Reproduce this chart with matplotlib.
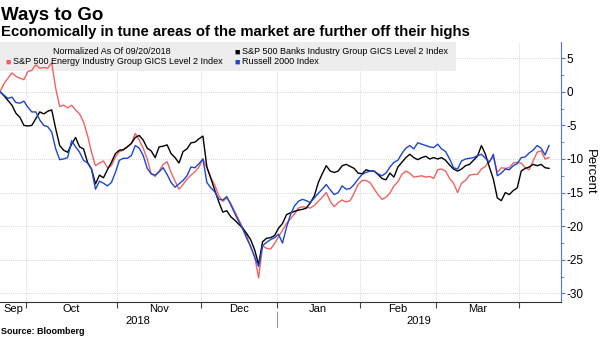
import numpy as np
import pandas as pd
import matplotlib.pyplot as plt
from matplotlib.patches import Rectangle
from matplotlib.transforms import blended_transform_factory

plt.rcParams['font.family'] = ['Liberation Sans', 'DejaVu Sans']
plt.rcParams['axes.unicode_minus'] = False

# trading days, Sep 20 2018 .. Apr 10 2019 (NYSE holidays removed)
holidays = ['2018-11-22', '2018-12-05', '2018-12-25',
            '2019-01-01', '2019-01-21', '2019-02-18']
dates = pd.bdate_range('2018-09-20', '2019-04-10', freq='C', holidays=holidays)

# % change since 09/20/2018
banks = [
    0, -0.6, -1.3, -2.0, -3.2, -3.8, -5.0, -5.1, -5.0, -4.0,
    -3.0, -3.3, -2.9, -2.7, -5.5, -8.0, -8.7, -9.0, -7.8, -6.8,
    -8.2, -8.5, -10.5, -11.5, -13.7, -12.4, -12.8, -11.6, -10.5, -9.2,
    -8.7, -8.6, -8.2, -7.7, -6.8, -6.5, -7.2, -8.4, -8.8, -9.8,
    -8.2, -8.1, -7.9, -9.2, -9.8, -10.6, -8.9, -8.5, -7.6, -7.5,
    -7.0, -6.6, -11.2, -12.9, -14.7, -16.4, -17.9, -17.7, -18.6, -19.1,
    -19.7, -20.3, -21.1, -22.0, -23.5, -25.7, -22.3, -21.8, -21.7, -21.4,
    -20.3, -19.6, -18.3, -18.0, -17.8, -17.6, -17.5, -17.3, -16.5, -15.5,
    -13.5, -12.2, -11.0, -11.8, -12.0, -11.8, -11.0, -10.8, -11.1, -11.4,
    -12.1, -12.2, -11.6, -11.8, -11.8, -12.3, -12.9, -13.1, -12.1, -12.7,
    -11.2, -10.5, -9.8, -9.3, -9.8, -10.1, -9.8, -9.6, -10.0, -9.8,
    -10.0, -9.8, -10.2, -10.9, -11.5, -11.8, -11.5, -11.0, -10.8, -10.2,
    -9.6, -8.0, -9.3, -11.2, -13.0, -15.8, -16.2, -15.0, -15.3, -14.7,
    -14.3, -11.8, -11.4, -11.2, -10.8, -11.0, -10.8, -11.3, -11.4,
]
energy = [
    0, 1.2, 2.0, 2.8, 2.3, 2.0, 1.8, 3.0, 3.2, 4.0,
    3.5, 3.6, 3.5, 4.3, 0.5, -2.2, -2.0, -2.4, -2.0, -2.7,
    -3.3, -4.5, -6.5, -9.0, -11.0, -10.6, -10.3, -11.3, -11.0, -9.7,
    -8.9, -8.7, -8.2, -7.7, -6.2, -7.2, -8.4, -10.0, -12.2, -12.6,
    -11.8, -10.8, -10.4, -12.0, -13.3, -14.5, -13.8, -13.0, -12.4, -11.9,
    -11.2, -10.0, -11.3, -12.8, -13.9, -15.5, -16.3, -15.8, -16.6, -17.8,
    -19.0, -20.2, -21.4, -23.1, -24.5, -27.7, -22.9, -23.3, -23.4, -22.6,
    -21.6, -20.6, -19.6, -18.9, -18.2, -17.3, -17.1, -17.2, -17.3, -16.9,
    -16.3, -15.7, -15.0, -16.3, -17.1, -16.5, -16.1, -16.4, -16.2, -15.1,
    -13.8, -13.2, -13.2, -13.5, -14.4, -15.3, -16.0, -15.7, -15.1, -14.0,
    -13.4, -12.3, -11.8, -12.1, -12.7, -12.6, -12.5, -12.7, -12.6, -12.9,
    -11.6, -11.5, -11.8, -12.9, -13.6, -15.0, -13.6, -13.2, -12.4, -12.3,
    -12.3, -11.5, -11.1, -10.3, -9.7, -12.0, -11.3, -11.4, -11.3, -10.6,
    -10.5, -10.6, -11.3, -11.6, -10.3, -9.0, -8.8, -10.0, -9.8,
]
russell = [
    0, -0.5, -1.0, -0.8, -1.6, -1.7, -1.4, -2.3, -3.0, -3.0,
    -4.2, -5.0, -5.2, -6.0, -8.5, -10.1, -10.0, -9.8, -7.3, -8.2,
    -9.0, -10.2, -10.6, -11.5, -14.5, -13.3, -13.6, -14.0, -13.5, -12.0,
    -10.2, -9.9, -9.9, -9.5, -8.0, -8.4, -9.5, -11.4, -12.2, -12.4,
    -11.9, -11.3, -12.3, -13.5, -14.2, -13.7, -13.2, -12.5, -11.2, -11.3,
    -10.7, -10.0, -13.5, -14.3, -14.9, -16.0, -16.1, -15.6, -16.8, -18.1,
    -19.3, -20.4, -21.8, -23.0, -24.6, -26.0, -22.9, -22.4, -22.0, -21.7,
    -21.2, -22.5, -20.2, -18.3, -17.0, -16.3, -16.0, -16.2, -16.5, -15.8,
    -15.1, -14.5, -13.8, -14.6, -15.3, -15.0, -14.0, -14.5, -14.4, -13.8,
    -13.0, -12.3, -12.0, -11.8, -11.8, -12.2, -12.5, -12.1, -11.2, -10.5,
    -10.2, -9.2, -8.4, -8.0, -8.5, -7.6, -7.8, -8.0, -8.2, -8.3,
    -7.8, -8.5, -8.9, -10.0, -11.3, -11.5, -10.3, -10.0, -9.9, -9.8,
    -9.5, -9.3, -9.9, -10.5, -9.3, -12.5, -12.1, -11.5, -11.6, -11.0,
    -10.7, -9.8, -9.7, -9.1, -8.7, -8.0, -8.4, -9.4, -8.0,
]

series_names = ['S&P 500 Energy Industry Group GICS Level 2 Index',
                'S&P 500 Banks Industry Group GICS Level 2 Index',
                'Russell 2000 Index']
colors = ['#f06262', '#000000', '#1c46d2']

W, H = 600, 338
fig = plt.figure(figsize=(W / 100, H / 100), dpi=100)

def fx(px):
    return px / W

def fy(py):
    return 1 - py / H

# plot box in pixels: left 0, right 561, top 42, bottom 301.5
ax = fig.add_axes([0, fy(301.5), fx(561), (301.5 - 42) / H])

x = np.arange(len(dates))
for vals, c in zip([energy, banks, russell], colors):
    ax.plot(x, vals, color=c, lw=1.0, zorder=3)

ax.set_xlim(0, 141)
ax.set_ylim(-31.2, 7.4)

# month boundaries
per = dates.to_period('M')
starts = np.where(per[1:] != per[:-1])[0] + 1
bounds = starts - 0.5
ax.set_xticks(bounds)
ax.set_xticklabels([])
ax.tick_params(axis='x', which='major', length=4, width=0.8, color='#444444')

edges = np.concatenate([[0], bounds])
centers = (edges[:-1] + edges[1:]) / 2
mlabels = [d.strftime('%b') for d in dates[np.concatenate([[0], starts[:-1]])]]
ax.set_xticks(centers, minor=True)
ax.set_xticklabels(mlabels, minor=True, fontsize=8)
ax.tick_params(axis='x', which='minor', length=0, pad=2)

# years
jan = bounds[[i for i, s in enumerate(starts) if dates[s].month == 1][0]]
tr = blended_transform_factory(ax.transData, ax.transAxes)
ax.text(jan / 2, -0.074, '2018', transform=tr, ha='center', va='center', fontsize=8)
ax.text((jan + 141) / 2, -0.074, '2019', transform=tr, ha='center', va='center', fontsize=8)
ax.plot([jan, jan], [-0.04, -0.10], transform=tr, color='#999999', lw=0.8, clip_on=False)

# y axis on right
ax.yaxis.tick_right()
ax.yaxis.set_label_position('right')
ax.set_yticks(np.arange(-30, 6, 5))
ax.set_yticks(np.arange(-27.5, 6, 5), minor=True)
ax.tick_params(axis='y', which='major', length=3, width=0.8, color='#4a78d4',
               labelsize=8.5, pad=1)
ax.tick_params(axis='y', which='minor', length=2, width=0.6, color='#4a78d4')
ax.set_ylabel('Percent', rotation=270, fontsize=9.5, labelpad=9)

ax.grid(True, which='major', ls=(0, (1, 1.5)), color='#c8c8c8', lw=0.6)
for s in ['left', 'top']:
    ax.spines[s].set_visible(False)
ax.spines['right'].set_color('#4a78d4')
ax.spines['bottom'].set_color('#333333')
ax.spines['bottom'].set_linewidth(0.8)

# legend block
ax.add_patch(Rectangle((0, fy(71)), fx(456), (71 - 42) / H, transform=fig.transFigure,
                       facecolor='#ececec', edgecolor='none', alpha=0.9, zorder=1.8,
                       clip_on=False))
lg = dict(fontsize=6.5, va='center', transform=fig.transFigure, zorder=5)
ax.text(fx(53), fy(52), 'Normalized As Of 09/20/2018', **lg)
ax.text(fx(234), fy(52), '\u25a0', color=colors[1], **lg)
ax.text(fx(242), fy(52), series_names[1], **lg)
ax.text(fx(5), fy(62), '\u25a0', color=colors[0], **lg)
ax.text(fx(13), fy(62), series_names[0], **lg)
ax.text(fx(234), fy(62), '\u25a0', color=colors[2], **lg)
ax.text(fx(242), fy(62), series_names[2], **lg)

fig.text(fx(1), fy(20), 'Ways to Go', fontsize=13.5, fontweight='bold', va='baseline')
fig.text(fx(1), fy(36), 'Economically in tune areas of the market are further off their highs',
         fontsize=10.7, fontweight='bold', va='baseline')
fig.text(fx(1), fy(334), 'Source: Bloomberg', fontsize=6.5, fontweight='bold', va='baseline')

fig.savefig('out.png', dpi=100)
